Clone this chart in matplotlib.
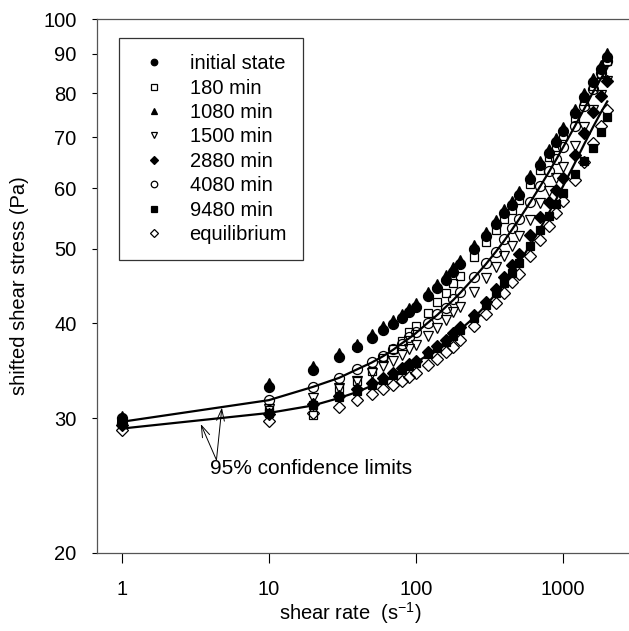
import matplotlib
matplotlib.use('Agg')
import matplotlib.pyplot as plt
from matplotlib.ticker import FixedLocator, FixedFormatter, NullLocator

plt.rcParams['font.family'] = ['Liberation Sans', 'DejaVu Sans']
plt.rcParams['font.size'] = 14
plt.rcParams['mathtext.fontset'] = 'custom'
plt.rcParams['mathtext.rm'] = 'Liberation Sans'

# shear rate (1/s)
shear_rate = [1, 10, 20, 30, 40, 50, 60, 70, 80, 90, 100, 120, 140, 160, 180, 200,
              250, 300, 350, 400, 450, 500, 600, 700, 800, 900, 1000, 1200, 1400,
              1600, 1800, 2000]

# shifted shear stress (Pa)
initial_state = [30.0, 33.0, 34.7, 36.1, 37.2, 38.2, 39.2, 39.9, 40.6, 41.4, 42.0, 43.4,
                 44.5, 45.6, 46.7, 47.8, 50.0, 52.0, 53.9, 55.7, 57.1, 58.8, 61.8, 64.4,
                 66.8, 69.0, 71.4, 75.3, 79.1, 82.7, 86.0, 89.2]
min_180 = [29.6, 30.8, 30.3, 32.9, 33.6, 34.6, 36.0, 37.0, 37.9, 38.9, 39.6, 41.2,
           42.6, 43.8, 45.1, 46.1, 48.8, 51.0, 53.0, 54.8, 56.3, 57.9, 60.8, 63.5,
           65.9, 68.0, 70.3, 74.2, 78.0, 81.6, 84.8, 88.0]
min_1080 = [30.2, 33.4, 35.1, 36.5, 37.6, 38.7, 39.7, 40.4, 41.1, 41.9, 42.5, 43.9,
            45.0, 46.2, 47.3, 48.4, 50.6, 52.6, 54.6, 56.4, 57.8, 59.5, 62.5, 65.2,
            67.6, 69.8, 72.3, 76.2, 80.1, 83.7, 87.0, 90.3]
min_1500 = [29.4, 30.9, 31.9, 32.9, 33.6, 34.4, 35.1, 35.7, 36.3, 37.0, 37.4, 38.5,
            39.4, 40.4, 41.3, 42.0, 43.9, 45.8, 47.4, 49.0, 50.5, 52.0, 54.6, 57.4,
            59.6, 61.9, 64.1, 68.2, 72.3, 76.0, 79.5, 83.0]
min_2880 = [29.4, 30.4, 31.3, 32.1, 32.8, 33.4, 33.9, 34.4, 34.9, 35.3, 35.7, 36.6,
            37.3, 38.0, 38.8, 39.5, 41.0, 42.6, 44.3, 46.0, 47.6, 49.3, 52.2, 55.0,
            57.6, 59.8, 62.0, 66.4, 71.0, 75.6, 79.3, 83.0]
min_4080 = [29.6, 31.7, 33.0, 33.9, 34.8, 35.6, 36.2, 37.0, 37.6, 38.3, 38.9, 40.0,
            41.1, 41.9, 43.0, 43.9, 45.9, 47.9, 49.6, 51.5, 53.2, 54.8, 57.6, 60.4,
            63.2, 65.6, 68.0, 72.4, 76.9, 80.9, 84.9, 88.0]
min_9480 = [29.5, 30.5, 31.2, 32.0, 32.6, 33.2, 33.7, 34.2, 34.7, 35.1, 35.5, 36.4,
            37.1, 37.8, 38.5, 39.2, 40.6, 42.2, 43.8, 45.1, 46.5, 47.9, 50.5, 53.0,
            55.3, 57.3, 59.2, 62.6, 65.2, 67.8, 71.1, 74.4]
equilibrium = [29.0, 29.8, 30.5, 31.1, 31.7, 32.3, 32.8, 33.2, 33.6, 34.0, 34.4, 35.2,
               35.9, 36.7, 37.2, 38.0, 39.6, 41.1, 42.5, 43.8, 45.2, 46.4, 48.9, 51.3,
               53.6, 55.7, 57.7, 61.5, 65.0, 68.8, 72.4, 76.0]

# 95% confidence limits
upper_limit = [29.7, 31.7, 33.0, 33.9, 34.8, 35.5, 36.2, 36.9, 37.6, 38.2, 38.8, 40.0,
               41.0, 42.0, 42.9, 43.8, 45.9, 47.8, 49.6, 51.3, 53.0, 54.6, 57.6, 60.4,
               63.0, 65.5, 67.9, 72.3, 76.4, 80.2, 83.4, 86.3]
lower_limit = [29.1, 30.5, 31.2, 31.9, 32.5, 33.1, 33.6, 34.1, 34.6, 35.0, 35.5, 36.3,
               37.1, 37.8, 38.5, 39.2, 40.7, 42.2, 43.7, 45.1, 46.5, 47.9, 50.6, 53.2,
               55.7, 58.1, 60.4, 64.7, 68.7, 72.2, 75.3, 78.0]

series = [
    ('initial state', initial_state, 'o', 'black'),
    ('180 min', min_180, 's', 'none'),
    ('1080 min', min_1080, '^', 'black'),
    ('1500 min', min_1500, 'v', 'none'),
    ('2880 min', min_2880, 'D', 'black'),
    ('4080 min', min_4080, 'o', 'none'),
    ('9480 min', min_9480, 's', 'black'),
    ('equilibrium', equilibrium, 'D', 'none'),
]
sizes = {'o': 7.2, 's': 6.4, '^': 7.2, 'v': 7.2, 'D': 5.8}

fig = plt.figure(figsize=(6.29, 6.31), dpi=100)
ax = fig.add_axes([97 / 629, 78 / 631, 532 / 629, 534 / 631])

for label, vals, m, fc in series:
    ax.plot(shear_rate, vals, linestyle='none', marker=m, markersize=sizes[m],
            markerfacecolor=fc, markeredgecolor='black', markeredgewidth=0.9,
            label=label)

ax.plot(shear_rate, upper_limit, color='black', lw=1.6)
ax.plot(shear_rate, lower_limit, color='black', lw=1.6)

ax.set_xscale('log')
ax.set_yscale('log')
ax.set_xlim(0.68, 2810)
ax.set_ylim(20, 100)

xt = [1, 10, 100, 1000]
ax.xaxis.set_major_locator(FixedLocator(xt))
ax.xaxis.set_major_formatter(FixedFormatter([str(v) for v in xt]))
ax.xaxis.set_minor_locator(NullLocator())
yt = [20, 30, 40, 50, 60, 70, 80, 90, 100]
ax.yaxis.set_major_locator(FixedLocator(yt))
ax.yaxis.set_major_formatter(FixedFormatter([str(v) for v in yt]))
ax.yaxis.set_minor_locator(NullLocator())

ax.tick_params(axis='x', direction='out', length=7.5, width=0.8, pad=12,
               colors='black', labelsize=14.5)
ax.tick_params(axis='y', direction='out', length=3.6, width=0.8, pad=11,
               colors='black', labelsize=14.5)
for side in ['left', 'bottom', 'top']:
    ax.spines[side].set_color('#555555')
    ax.spines[side].set_linewidth(0.9)
ax.spines['right'].set_visible(False)

ax.set_xlabel(r'shear rate  (s$^{-1}$)', fontsize=14.5)
ax.set_ylabel('shifted shear stress (Pa)', fontsize=14.5)
ax.xaxis.set_label_coords(0.4756, -0.088)
ax.yaxis.set_label_coords(-0.128, 0.5)

leg = ax.legend(loc='upper left', bbox_to_anchor=(0.0414, 0.9644), borderaxespad=0,
                frameon=True, fancybox=False, framealpha=1, edgecolor='#333333',
                markerscale=0.65, handlelength=1.9, handletextpad=0.8,
                borderpad=0.8, labelspacing=0.27, fontsize=14.5)
leg.get_frame().set_linewidth(0.9)

# confidence-limit arrows
for tip in [(3.45, 29.5), (4.8, 31.0)]:
    ax.annotate('', xy=tip, xytext=(4.41, 26.47),
                arrowprops=dict(arrowstyle='->,head_length=0.6,head_width=0.2',
                                lw=0.7, color='black', shrinkA=0, shrinkB=0))
ax.text(3.97, 25.8, '95% confidence limits', ha='left', va='center', fontsize=15)

fig.savefig('out.png', dpi=100)
